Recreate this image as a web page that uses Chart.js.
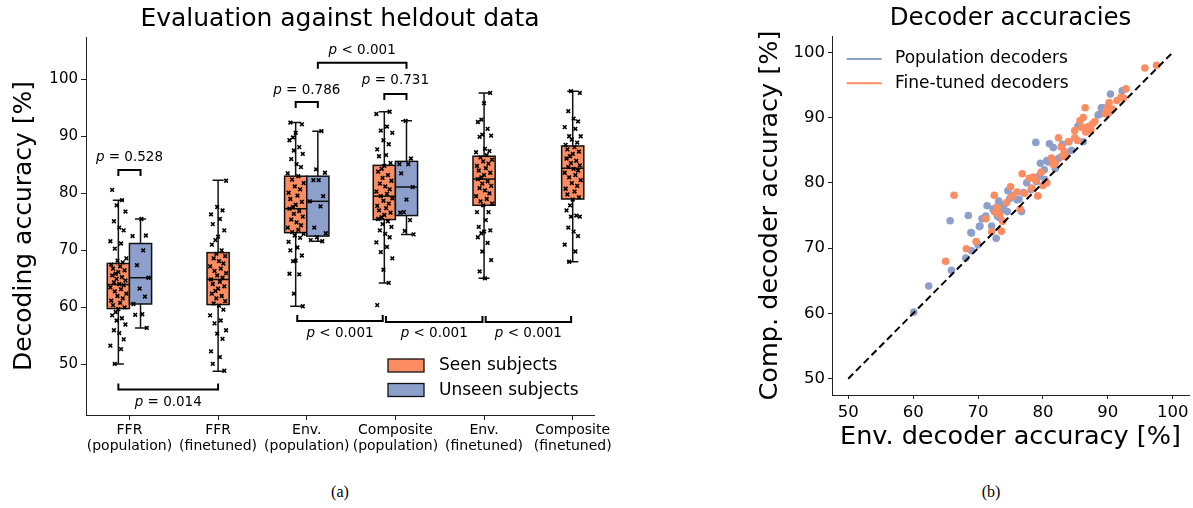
<!DOCTYPE html>
<html>
<head>
<meta charset="utf-8">
<script src="https://cdn.jsdelivr.net/npm/chart.js@4.4.1/dist/chart.umd.min.js"></script>
<style>
  body { margin: 0; background: #fff; width: 1193px; height: 508px; position: relative; overflow: hidden; }
  #boxWrap { position: absolute; left: 0; top: 0; width: 620px; height: 460px; }
  #scatWrap { position: absolute; left: 740px; top: 0; width: 453px; height: 460px; }
  .cap { position: absolute; top: 483px; width: 80px; text-align: center; font-family: "Liberation Serif", serif; font-size: 16px; color: #000; }
</style>
</head>
<body>
<div id="boxWrap"><canvas id="boxChart" width="620" height="460"></canvas></div>
<div id="scatWrap"><canvas id="scatChart" width="453" height="460"></canvas></div>
<div class="cap" style="left:300px">(a)</div>
<div class="cap" style="left:951px">(b)</div>
<script>
// ---- data: box plot (left) ----
const categories = [
    ["FFR", "(population)"], ["FFR", "(finetuned)"], ["Env.", "(population)"],
    ["Composite", "(population)"], ["Env.", "(finetuned)"], ["Composite", "(finetuned)"]
];
// box order: FFR pop seen, FFR pop unseen, FFR fine, Env pop seen, Env pop unseen,
// Comp pop seen, Comp pop unseen, Env fine, Comp fine
const boxCategory = [0, 0, 1, 2, 2, 3, 3, 4, 5];
const boxSubjects = ["seen", "unseen", "seen", "seen", "unseen", "seen", "unseen", "seen", "seen"];
const whiskerLow  = [50.1, 56.4, 48.8, 60.2, 71.6, 64.3, 72.8, 65.1, 68.0];
const quart1      = [59.8, 60.6, 60.5, 73.1, 72.5, 75.4, 76.1, 77.9, 79.0];
const medians     = [64.0, 65.2, 64.9, 77.3, 78.6, 79.5, 81.1, 82.5, 84.4];
const quart3      = [67.7, 71.2, 69.6, 83.0, 83.0, 84.9, 85.6, 86.5, 88.3];
const whiskerHigh = [78.8, 75.5, 82.3, 92.4, 90.9, 94.3, 92.7, 97.6, 97.9];

const ffrPopSeen = [80.6, 78.8, 77.9, 76.8, 75.1, 74.0, 73.5, 71.6, 71.2, 70.3, 68.6, 68.2, 67.9, 67.5, 67.2, 66.8,
    66.5, 66.2, 65.9, 65.6, 65.3, 65.0, 64.7, 64.4, 64.1, 63.9, 63.5, 63.2, 62.8, 62.4, 62.0, 61.6, 61.2, 60.8,
    60.4, 60.0, 59.7, 59.2, 58.6, 58.1, 57.7, 57.0, 56.0, 55.5, 54.4, 53.3, 52.7, 50.1];
const ffrPopUnseen = [75.5, 72.6, 72.5, 70.0, 67.4, 65.2, 63.3, 61.9, 60.6, 58.8, 58.7, 56.4];
const ffrFine = [82.2, 77.6, 77.0, 76.3, 75.5, 74.6, 73.5, 72.4, 71.8, 71.0, 70.0, 69.4, 69.0, 68.6, 68.1, 67.7,
    67.2, 66.8, 66.4, 66.0, 65.6, 65.2, 64.9, 64.5, 64.1, 63.7, 63.3, 62.9, 62.4, 62.0, 61.6, 61.1, 60.7, 60.3,
    59.6, 58.6, 57.7, 57.2, 56.0, 55.4, 54.5, 52.3, 51.3, 50.1, 48.9];
const envPopSeen = [92.4, 92.1, 90.6, 89.8, 89.3, 88.1, 87.5, 86.9, 86.0, 85.1, 84.6, 83.5, 83.0, 82.4, 81.8, 81.2,
    80.7, 80.1, 79.6, 79.0, 78.5, 78.0, 77.6, 77.3, 76.9, 76.4, 75.9, 75.4, 74.9, 74.4, 74.0, 73.6, 73.2, 72.9,
    72.6, 72.2, 71.5, 70.5, 70.0, 69.1, 68.2, 68.1, 65.9, 65.8, 62.4, 60.2];
const envPopUnseen = [90.9, 84.2, 83.6, 82.3, 82.3, 79.5, 78.6, 77.7, 74.0, 73.0, 72.3, 71.6, 71.8];
const compPopSeen = [94.3, 93.9, 91.7, 91.0, 90.6, 89.3, 88.6, 87.7, 86.7, 86.5, 85.3, 84.8, 84.3, 83.8, 83.2, 82.7,
    82.2, 81.7, 81.2, 80.7, 80.3, 79.9, 79.5, 79.1, 78.7, 78.2, 77.8, 77.4, 77.0, 76.6, 76.2, 75.8, 75.5, 75.1,
    74.6, 74.1, 73.5, 72.9, 72.3, 71.4, 70.6, 69.7, 68.6, 66.6, 64.3, 60.4];
const compPopUnseen = [92.7, 86.1, 85.1, 85.1, 83.5, 81.1, 78.9, 76.7, 76.6, 75.3, 73.4, 72.8];
const envFine = [97.6, 95.8, 92.9, 92.5, 91.3, 90.3, 90.1, 89.9, 87.8, 87.4, 87.2, 86.7, 86.3, 85.9, 85.6, 85.2,
    84.8, 84.4, 84.0, 83.6, 83.2, 82.8, 82.5, 82.1, 81.7, 81.3, 80.9, 80.5, 80.0, 79.5, 79.0, 78.6, 78.2, 77.9,
    76.7, 76.7, 75.3, 74.1, 73.5, 73.3, 73.0, 72.3, 71.3, 69.8, 68.3, 66.3, 65.1];
const compFine = [97.9, 97.6, 94.4, 93.1, 92.6, 91.6, 91.3, 90.0, 90.0, 89.4, 88.9, 88.5, 88.1, 87.7, 87.3, 86.9,
    86.5, 86.1, 85.7, 85.3, 84.9, 84.6, 84.3, 84.0, 83.6, 83.2, 82.8, 82.3, 81.8, 81.3, 80.8, 80.3, 79.8, 79.3,
    78.9, 77.9, 77.0, 76.1, 75.9, 75.9, 74.0, 73.3, 72.5, 71.0, 69.8, 68.0];
const boxPoints = [ffrPopSeen, ffrPopUnseen, ffrFine, envPopSeen, envPopUnseen, compPopSeen, compPopUnseen, envFine, compFine];

const pValues = ["p = 0.528", "p = 0.786", "p = 0.731", "p < 0.001", "p = 0.014", "p < 0.001", "p < 0.001", "p < 0.001"];

// ---- data: scatter (right) ----
const populationPairs = [[60.1,60.2],[62.4,64.2],[65.9,66.6],[65.7,74.2],[68.1,68.5],[68.5,75.0],[69.0,69.6],[68.9,72.4],
    [69.0,72.3],[70.0,70.5],[70.2,73.3],[70.3,73.4],[70.6,74.5],[71.4,76.5],[72.1,73.4],[72.8,71.5],[72.5,75.6],
    [72.9,76.3],[73.2,77.2],[73.6,75.9],[73.0,74.9],[74.5,75.6],[74.6,78.8],[75.2,78.1],[76.0,77.4],[76.3,77.5],
    [76.7,75.6],[77.5,80.0],[78.2,79.0],[79.4,81.0],[78.9,86.2],[79.6,83.0],[80.8,83.2],[80.2,82.0],[81.0,86.0],
    [81.6,85.4],[80.6,83.4],[82.5,83.8],[83.0,85.9],[83.6,84.4],[84.0,86.3],[85.4,88.7],[86.2,86.3],[88.7,90.5],
    [89.2,91.5],[89.0,91.5],[88.5,90.4],[89.3,90.7],[90.4,93.6],[92.2,94.1],[71.2,74.9],[74.0,76.6],[77.0,78.5],
    [81.9,82.2],[84.4,85.0],[72.3,76.0],[73.4,74.6],[74.9,77.6],[79.0,80.2],[80.3,80.5],[82.0,83.5]];
const finetunedPairs = [[65.0,68.0],[66.3,78.1],[68.2,69.9],[69.7,71.0],[71.2,74.5],[72.5,78.1],[72.7,75.5],[73.0,76.2],
    [73.3,75.1],[72.1,72.5],[73.6,72.6],[73.8,74.1],[75.0,79.4],[75.2,77.9],[76.5,76.0],[76.8,81.4],[77.9,80.7],
    [78.3,79.2],[79.2,78.0],[78.9,80.4],[80.6,80.0],[81.6,82.8],[81.3,83.8],[81.9,83.1],[82.4,86.9],[82.8,85.5],
    [83.3,84.8],[83.9,86.3],[83.5,84.0],[84.9,86.9],[84.9,88.0],[85.7,89.5],[86.2,90.0],[86.9,88.6],[86.5,91.5],
    [87.4,88.1],[86.0,88.5],[88.0,89.4],[87.6,89.0],[89.8,91.2],[89.6,90.6],[90.0,91.6],[90.2,92.3],[90.7,91.3],
    [90.1,90.7],[91.4,92.6],[92.0,93.1],[92.4,93.0],[92.8,94.4],[95.7,97.6],[97.5,98.0],[80.0,79.6],[77.2,78.4],
    [85.3,86.5],[79.7,81.6],[72.9,75.8],[74.4,77.0],[76.0,78.6],[78.5,80.9],[83.0,84.1],[86.6,87.8]];
const axisTicks = [50, 60, 70, 80, 90, 100];

// ---- styles ----
const ORANGE = '#fc8d62';
const BLUE = '#8da0cb';
const FONT = '"DejaVu Sans", sans-serif';
const JITTER = [-0.07, 0.04, -0.02, 0.08, -0.05, 0.01, 0.06, -0.09, 0.03, -0.04, 0.09, -0.01, 0.05, -0.08, 0.02, -0.06, 0.07, 0, -0.03];
Chart.defaults.font.family = FONT;
Chart.defaults.color = '#000';

function boxCenter(i) {
    const paired = boxCategory.filter(c => c === boxCategory[i]).length > 1;
    if (!paired) return boxCategory[i];
    return boxCategory[i] + (boxSubjects[i] === 'seen' ? -0.125 : 0.125);
}

function drawP(ctx, text, cx, cy, size) {
    const rest = text.slice(1);
    ctx.font = `italic ${size}px ${FONT}`;
    const w1 = ctx.measureText('p').width;
    ctx.font = `${size}px ${FONT}`;
    const w2 = ctx.measureText(rest).width;
    const x0 = cx - (w1 + w2) / 2;
    ctx.textAlign = 'left';
    ctx.textBaseline = 'middle';
    ctx.fillStyle = '#000';
    ctx.font = `italic ${size}px ${FONT}`;
    ctx.fillText('p', x0, cy);
    ctx.font = `${size}px ${FONT}`;
    ctx.fillText(rest, x0 + w1, cy);
}

// bracket specs: x range in category units, bar level and label level in y units, legs down (+1) or up (-1)
const brackets = [
    { x1: -0.125, x2: 0.125, y: 84.1, dir: 1, ty: 86.2 },
    { x1: 1.875, x2: 2.125, y: 96.0, dir: 1, ty: 98.1 },
    { x1: 2.875, x2: 3.125, y: 97.4, dir: 1, ty: 99.7 },
    { x1: 2.125, x2: 3.125, y: 102.9, dir: 1, ty: 105.0 },
    { x1: -0.125, x2: 1, y: 45.6, dir: -1, ty: 43.4 },
    { x1: 1.875, x2: 2.875, y: 57.6, dir: -1, ty: 55.5, shrink: true },
    { x1: 2.875, x2: 4, y: 57.45, dir: -1, ty: 55.5, shrink: true },
    { x1: 4, x2: 5, y: 57.45, dir: -1, ty: 55.5, shrink: true }
];

const boxPlugin = {
    id: 'boxes',
    beforeDatasetsDraw(chart) {
        const { ctx, scales: { x, y } } = chart;
        const halfW = x.getPixelForValue(0.125) - x.getPixelForValue(0);
        ctx.save();
        ctx.strokeStyle = '#111';
        ctx.lineWidth = 1.5;
        quart1.forEach((q1, i) => {
            const cx = x.getPixelForValue(boxCenter(i));
            const yLo = y.getPixelForValue(whiskerLow[i]);
            const yHi = y.getPixelForValue(whiskerHigh[i]);
            const y1 = y.getPixelForValue(q1);
            const y3 = y.getPixelForValue(quart3[i]);
            const ym = y.getPixelForValue(medians[i]);
            ctx.beginPath();
            ctx.moveTo(cx, yLo); ctx.lineTo(cx, y1);
            ctx.moveTo(cx, y3); ctx.lineTo(cx, yHi);
            ctx.moveTo(cx - halfW / 2, yLo); ctx.lineTo(cx + halfW / 2, yLo);
            ctx.moveTo(cx - halfW / 2, yHi); ctx.lineTo(cx + halfW / 2, yHi);
            ctx.stroke();
            ctx.fillStyle = boxSubjects[i] === 'seen' ? ORANGE : BLUE;
            ctx.fillRect(cx - halfW, y3, 2 * halfW, y1 - y3);
            ctx.strokeRect(cx - halfW, y3, 2 * halfW, y1 - y3);
            ctx.beginPath();
            ctx.moveTo(cx - halfW, ym); ctx.lineTo(cx + halfW, ym);
            ctx.stroke();
        });
        ctx.restore();
    },
    afterDraw(chart) {
        const { ctx, chartArea, scales: { x, y } } = chart;
        ctx.save();
        ctx.strokeStyle = '#000';
        ctx.lineWidth = 2;
        brackets.forEach((b, i) => {
            const s = b.shrink ? 1.6 : 0;
            const px1 = x.getPixelForValue(b.x1) + s;
            const px2 = x.getPixelForValue(b.x2) - s;
            const py = y.getPixelForValue(b.y);
            ctx.beginPath();
            ctx.moveTo(px1, py + 6 * b.dir);
            ctx.lineTo(px1, py);
            ctx.lineTo(px2, py);
            ctx.lineTo(px2, py + 6 * b.dir);
            ctx.stroke();
            drawP(ctx, pValues[i], (px1 + px2) / 2, y.getPixelForValue(b.ty), 13.5);
        });
        // legend
        const legendItems = [['Seen subjects', ORANGE], ['Unseen subjects', BLUE]];
        legendItems.forEach(([label, color], i) => {
            const ly = 359 + i * 24.5;
            ctx.fillStyle = color;
            ctx.fillRect(388, ly, 36, 13);
            ctx.lineWidth = 1.3;
            ctx.strokeStyle = '#111';
            ctx.strokeRect(388, ly, 36, 13);
            ctx.fillStyle = '#000';
            ctx.font = `17px ${FONT}`;
            ctx.textAlign = 'left';
            ctx.textBaseline = 'middle';
            ctx.fillText(label, 439, ly + 7);
        });
        // titles
        ctx.fillStyle = '#000';
        ctx.textAlign = 'center';
        ctx.textBaseline = 'middle';
        ctx.font = `25px ${FONT}`;
        ctx.fillText('Evaluation against heldout data', (chartArea.left + chartArea.right) / 2, 19);
        ctx.translate(24, (chartArea.top + chartArea.bottom) / 2);
        ctx.rotate(-Math.PI / 2);
        ctx.fillText('Decoding accuracy [%]', 0, 0);
        ctx.restore();
    }
};

const pointDatasets = boxPoints.map((vals, i) => ({
    data: vals.map((v, k) => ({ x: boxCenter(i) + JITTER[(k + i * 5) % JITTER.length], y: v })),
    pointStyle: 'crossRot',
    pointRadius: 2.6,
    borderWidth: 1.6,
    borderColor: '#000',
    backgroundColor: '#000'
}));

new Chart(document.getElementById('boxChart'), {
    type: 'scatter',
    data: { datasets: pointDatasets },
    options: {
        responsive: false,
        animation: false,
        devicePixelRatio: 1,
        layout: { padding: { top: 37, left: 0, right: 26, bottom: 0 } },
        plugins: { legend: { display: false }, tooltip: { enabled: false } },
        scales: {
            x: {
                type: 'linear', min: -0.49, max: 5.24,
                afterBuildTicks: s => { s.ticks = categories.map((c, i) => ({ value: i })); },
                afterFit: s => { s.height = 45; },
                ticks: { callback: v => categories[v], font: { size: 14, lineHeight: 1.1 }, padding: 3, maxRotation: 0, autoSkip: false },
                grid: { display: true, drawOnChartArea: false, tickLength: 5, tickColor: '#222' },
                border: { display: true, color: '#222', width: 1 }
            },
            y: {
                min: 41.14, max: 107.4,
                afterBuildTicks: s => { s.ticks = axisTicks.map(v => ({ value: v })); },
                afterFit: s => { s.width = 86; },
                ticks: { font: { size: 15 }, padding: 3 },
                grid: { display: true, drawOnChartArea: false, tickLength: 5, tickColor: '#222' },
                border: { display: true, color: '#222', width: 1 }
            }
        }
    },
    plugins: [boxPlugin]
});

// ---- right: scatter ----
const scatterText = {
    id: 'scatterText',
    afterDraw(chart) {
        const { ctx, chartArea } = chart;
        ctx.save();
        const items = [['Population decoders', BLUE], ['Fine-tuned decoders', ORANGE]];
        items.forEach(([label, color], i) => {
            const ly = 59 + i * 24.3;
            ctx.strokeStyle = color;
            ctx.lineWidth = 2;
            ctx.beginPath();
            ctx.moveTo(106.7, ly); ctx.lineTo(141.7, ly);
            ctx.stroke();
            ctx.fillStyle = '#000';
            ctx.font = `17px ${FONT}`;
            ctx.textAlign = 'left';
            ctx.textBaseline = 'middle';
            ctx.fillText(label, 155, ly);
        });
        ctx.textAlign = 'center';
        ctx.textBaseline = 'middle';
        ctx.font = `24.5px ${FONT}`;
        ctx.fillText('Decoder accuracies', (chartArea.left + chartArea.right) / 2, 19);
        ctx.font = `25.5px ${FONT}`;
        ctx.fillText('Env. decoder accuracy [%]', (chartArea.left + chartArea.right) / 2, 437);
        ctx.translate(30, (chartArea.top + chartArea.bottom) / 2);
        ctx.rotate(-Math.PI / 2);
        ctx.fillText('Comp. decoder accuracy [%]', 0, 0);
        ctx.restore();
    }
};

new Chart(document.getElementById('scatChart'), {
    type: 'scatter',
    data: {
        datasets: [
            { label: 'identity', type: 'line', data: [{ x: 50, y: 50 }, { x: 100, y: 100 }], showLine: true,
              borderColor: '#000', borderWidth: 2, borderDash: [7, 4], pointRadius: 0, order: 0 },
            { label: 'Fine-tuned decoders', data: finetunedPairs.map(([x, y]) => ({ x, y })),
              backgroundColor: ORANGE, borderWidth: 0, pointRadius: 3.8, order: 1 },
            { label: 'Population decoders', data: populationPairs.map(([x, y]) => ({ x, y })),
              backgroundColor: BLUE, borderWidth: 0, pointRadius: 3.8, order: 2 }
        ]
    },
    options: {
        responsive: false,
        animation: false,
        devicePixelRatio: 1,
        layout: { padding: { top: 36, left: 0, right: 0, bottom: 0 } },
        plugins: { legend: { display: false }, tooltip: { enabled: false } },
        scales: {
            x: {
                type: 'linear', min: 47.5, max: 102.5,
                afterBuildTicks: s => { s.ticks = axisTicks.map(v => ({ value: v })); },
                afterFit: s => { s.height = 65; },
                ticks: { font: { size: 16.5 }, padding: 4 },
                grid: { display: true, drawOnChartArea: false, tickLength: 4, tickColor: '#222' },
                border: { display: true, color: '#222', width: 1 }
            },
            y: {
                min: 47.5, max: 102.5,
                afterBuildTicks: s => { s.ticks = axisTicks.map(v => ({ value: v })); },
                afterFit: s => { s.width = 92; },
                ticks: { font: { size: 16.5 }, padding: 3 },
                grid: { display: true, drawOnChartArea: false, tickLength: 4, tickColor: '#222' },
                border: { display: true, color: '#222', width: 1 }
            }
        }
    },
    plugins: [scatterText]
});
</script>
</body>
</html>
